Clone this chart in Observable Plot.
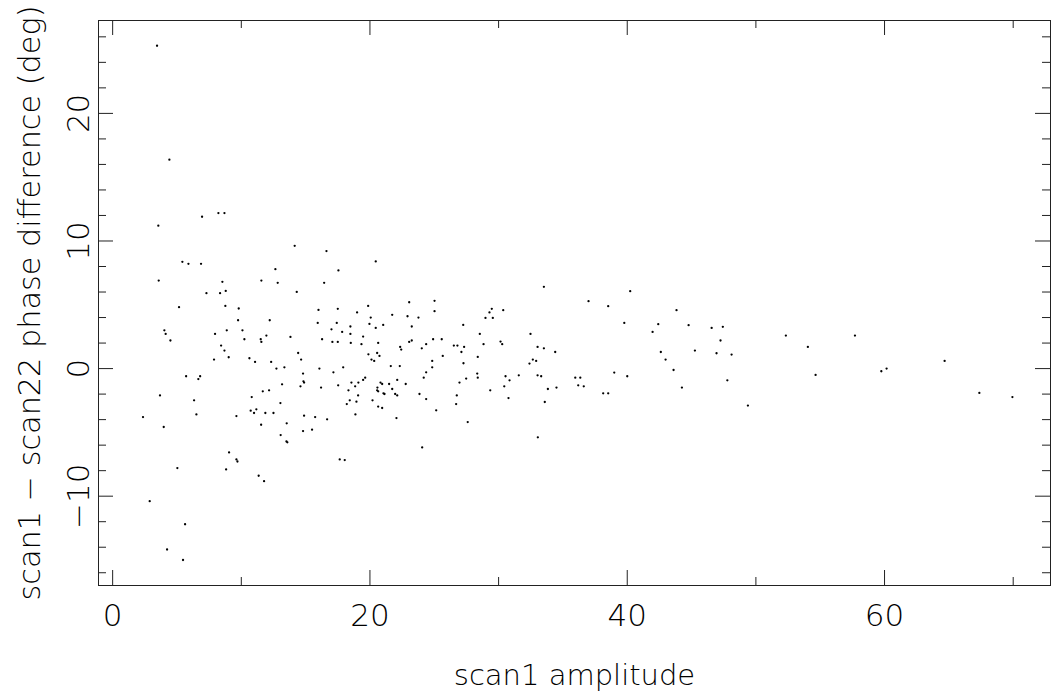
<!DOCTYPE html>
<html>
<head>
<meta charset="utf-8">
<script src="https://cdn.jsdelivr.net/npm/d3@7"></script>
<script src="https://cdn.jsdelivr.net/npm/@observablehq/plot@0.6"></script>
<style>
  html, body { margin: 0; padding: 0; background: #fff; }
  #chart svg { display: block; }
</style>
</head>
<body>
<div id="chart"></div>
<script>
const amplitude = [
  3.45, 4.41, 6.95, 8.22, 8.69, 3.55, 14.15, 5.42, 5.89, 6.87, 12.65, 3.58, 8.53, 11.56, 12.83, 7.29, 8.35, 8.79,
  5.16, 8.76, 9.8, 9.75, 12.21, 4.02, 4.12, 7.96, 8.87, 10.09, 4.49, 10.24, 11.51, 11.56, 11.95, 13.82, 8.43, 8.69,
  9.02, 7.88, 10.63, 11.07, 12.32, 12.73, 13.35, 5.71, 6.66, 6.8, 13.17, 3.68, 6.33, 10.81, 11.67, 12.16, 13.04,
  2.36, 6.51, 9.62, 10.73, 10.99, 11.17, 11.87, 12.5, 3.97, 11.54, 13.53, 13.06, 13.51, 13.58, 9.05, 9.62, 9.7,
  8.82, 5.03, 11.35, 11.77, 2.88, 5.63, 4.23, 5.47,
  16.62, 20.45, 17.55, 16.44, 14.31, 16.0, 17.5, 19.86, 23.05, 25.02, 25.02, 19.0, 21.73, 22.92, 23.77, 20.06,
  15.94, 17.42, 19.96, 18.48, 21.03, 20.45, 23.25, 27.25, 17.01, 17.84, 18.48, 19.47, 16.28, 17.08, 17.5, 18.51,
  19.34, 20.64, 23.05, 23.25, 24.37, 24.91, 25.58, 28.54, 24.03, 22.35, 22.43, 26.52, 26.8, 27.32, 27.11, 14.42,
  14.65, 19.88, 20.56, 20.74, 20.12, 20.33, 25.66, 28.38, 27.27, 24.84, 21.62, 22.32, 24.84, 16.07, 17.92, 17.16,
  14.8, 24.37, 28.34, 28.38, 24.18, 27.48, 19.63, 19.47, 22.12, 14.83, 14.88, 18.56, 19.1, 20.82, 20.95, 21.49,
  22.78, 26.96, 14.6, 16.2, 17.53, 18.85, 20.58, 18.33, 20.56, 20.64, 21.73, 21.05, 21.13, 21.96, 22.12, 19.08,
  23.85, 18.43, 18.95, 18.2, 20.2, 24.37, 26.75, 26.7, 20.64, 20.95, 25.15, 14.88, 15.74, 16.67, 18.87, 22.06,
  27.6, 14.8, 15.5, 24.06, 17.65, 18.04,
  33.52, 40.23, 36.99, 38.52, 29.47, 29.29, 30.36, 28.98, 29.55, 39.77, 42.41, 41.97, 32.48, 28.83, 30.15, 30.28,
  33.03, 33.52, 34.4, 32.66, 32.92, 32.4, 30.54, 30.85, 31.57, 33.03, 33.31, 35.96, 36.35, 38.99, 40.0, 36.19,
  36.62, 30.44, 33.83, 34.5, 29.35, 38.13, 38.52, 30.77, 33.59, 33.05,
  43.83, 44.77, 46.56, 47.43, 47.25, 52.33, 57.7, 54.04, 42.61, 45.26, 46.94, 48.11, 42.98, 64.67, 43.6, 54.64,
  59.75, 60.16, 47.78, 44.25, 67.37, 69.94, 49.38
];
const phaseDiff = [
  25.3, 16.37, 11.9, 12.19, 12.19, 11.2, 9.62, 8.37, 8.21, 8.21, 7.79, 6.9, 6.8, 6.9, 6.72, 5.91, 5.91, 6.09,
  4.81, 4.91, 4.71, 3.79, 3.79, 3.0, 2.72, 2.72, 3.0, 3.0, 2.2, 2.3, 2.3, 2.09, 2.59, 2.48, 1.8, 1.41,
  0.89, 0.71, 0.81, 0.52, 0.52, 0.0, 0.1, -0.6, -0.82, -0.6, -1.23, -2.1, -2.49, -2.23, -1.78, -1.7, -2.7,
  -3.8, -3.59, -3.72, -3.3, -3.48, -3.19, -3.48, -3.48, -4.58, -4.4, -4.29, -5.21, -5.71, -5.78, -6.57, -7.12, -7.28,
  -7.9, -7.8, -8.4, -8.82, -10.39, -12.2, -14.18, -15.0,
  9.21, 8.4, 7.69, 6.72, 6.01, 4.6, 4.68, 4.91, 5.2, 5.31, 4.5, 4.4, 4.21, 4.1, 4.0, 4.0,
  3.58, 3.58, 3.5, 3.3, 3.42, 3.19, 3.3, 3.42, 3.08, 2.87, 2.72, 2.51, 2.3, 2.09, 2.09, 2.01,
  1.91, 2.01, 2.09, 2.2, 1.91, 2.3, 2.3, 2.72, 1.59, 1.7, 1.49, 1.8, 1.8, 1.7, 1.3, 1.22,
  0.71, 1.12, 1.22, 0.99, 0.71, 0.6, 0.99, 0.91, 0.42, 0.6, 0.2, 0.2, 0.1, 0.0, 0.1, -0.29,
  -0.39, -0.29, -0.39, -0.71, -0.71, -0.78, -0.71, -0.89, -0.89, -1.0, -1.1, -1.1, -1.1, -1.1, -1.21, -1.21,
  -1.21, -1.1, -1.39, -1.49, -1.31, -1.39, -1.49, -1.7, -1.7, -1.78, -1.6, -1.94, -1.99, -1.99, -2.1, -2.1,
  -1.99, -2.49, -2.59, -2.78, -2.49, -2.39, -2.1, -2.78, -2.98, -3.09, -3.27, -3.69, -3.8, -3.98, -3.59, -3.88,
  -4.19, -4.9, -4.79, -6.18, -7.12, -7.17,
  6.41, 6.07, 5.28, 4.89, 4.68, 4.4, 4.58, 3.97, 3.97, 3.58, 3.48, 2.87, 2.72, 1.91, 2.12, 1.91,
  1.7, 1.59, 1.3, 0.71, 0.6, 0.39, -0.6, -0.92, -0.53, -0.53, -0.6, -0.71, -0.71, -0.31, -0.6, -1.31,
  -1.39, -1.39, -1.6, -1.49, -1.7, -1.94, -1.94, -2.31, -2.62, -5.39,
  4.58, 3.4, 3.19, 3.27, 2.2, 2.59, 2.59, 1.7, 1.3, 1.41, 1.2, 1.1, 0.71, 0.6, -0.11, -0.5,
  -0.21, 0.0, -0.92, -1.49, -1.91, -2.23, -2.9
];
const xMajorTicks = [0, 20, 40, 60];
const xMinorTicks = [10, 30, 50, 70];
const yMajorTicks = [-10, 0, 10, 20];
const yMinorTicks = [-16, -14, -12, -8, -6, -4, -2, 2, 4, 6, 8, 12, 14, 16, 18, 22, 24, 26];
const xTitle = "scan1 amplitude";
const yTitle = "scan1 − scan22 phase difference (deg)";

const points = amplitude.map((a, i) => ({a, p: phaseDiff[i]}));

const W = 1051, H = 691, mL = 98, mR = 1, mT = 20, mB = 106;
const fw = W - mL - mR, fh = H - mT - mB;
const majorLen = 15, minorLen = 8;
const font = "'DejaVu Sans', sans-serif";
const ink = "#000";

const chart = Plot.plot({
  width: W, height: H,
  marginLeft: mL, marginRight: mR, marginTop: mT, marginBottom: mB,
  x: {domain: [-1.1, 72.9], axis: null},
  y: {domain: [-17.0, 27.28], axis: null},
  style: {background: "#fff", overflow: "visible"},
  marks: [
    Plot.frame({stroke: "#222", strokeWidth: 1}),
    // bottom ticks
    Plot.tickX(xMajorTicks, {x: d => d, insetTop: fh - majorLen, stroke: "#222"}),
    Plot.tickX(xMinorTicks, {x: d => d, insetTop: fh - minorLen, stroke: "#222"}),
    // top ticks
    Plot.tickX(xMajorTicks, {x: d => d, insetBottom: fh - majorLen, stroke: "#222"}),
    Plot.tickX(xMinorTicks, {x: d => d, insetBottom: fh - minorLen, stroke: "#222"}),
    // left ticks
    Plot.tickY(yMajorTicks, {y: d => d, insetRight: fw - majorLen, stroke: "#222"}),
    Plot.tickY(yMinorTicks, {y: d => d, insetRight: fw - minorLen, stroke: "#222"}),
    // right ticks
    Plot.tickY(yMajorTicks, {y: d => d, insetLeft: fw - majorLen, stroke: "#222"}),
    Plot.tickY(yMinorTicks, {y: d => d, insetLeft: fw - minorLen, stroke: "#222"}),
    // x tick labels
    Plot.text(xMajorTicks, {x: d => d, frameAnchor: "bottom", textAnchor: "middle", lineAnchor: "top", dy: 18,
      text: d => String(d), fontSize: 31, fontFamily: font, fontWeight: 200, fill: ink}),
    // y tick labels (rotated)
    Plot.text(yMajorTicks, {y: d => d, frameAnchor: "left", textAnchor: "middle", lineAnchor: "bottom", rotate: -90, dx: -10,
      text: d => (d < 0 ? "\u2212" + Math.abs(d) : String(d)), fontSize: 31, fontFamily: font, fontWeight: 200, fill: ink}),
    // axis titles
    Plot.text([xTitle], {frameAnchor: "bottom", textAnchor: "middle", lineAnchor: "top", dy: 79, text: d => d,
      fontSize: 29, fontFamily: font, fontWeight: 200, fill: ink}),
    Plot.text([yTitle], {frameAnchor: "left", textAnchor: "middle", lineAnchor: "bottom", rotate: -90, dx: -59, text: d => d,
      fontSize: 30.3, fontFamily: font, fontWeight: 200, fill: ink}),
    // points
    Plot.dot(points, {x: "a", y: "p", r: 1.15, fill: "#000", stroke: null})
  ]
});
document.getElementById("chart").appendChild(chart);
</script>
</body>
</html>
